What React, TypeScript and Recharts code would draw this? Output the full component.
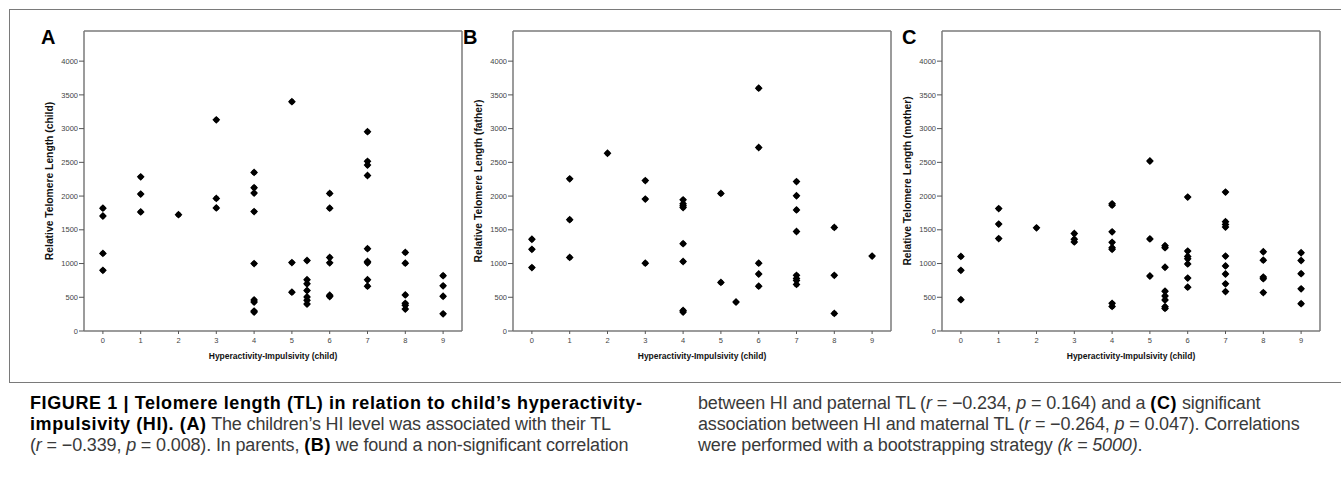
import React from "react";
import { ScatterChart, Scatter, XAxis, YAxis, ReferenceLine } from "recharts";

// HI levels (x categories) – the 5.4 column is a separate group shown between 5 and 6
const hiLevels = [0, 1, 2, 3, 4, 5, 5.4, 6, 7, 8, 9];

// Relative telomere length, grouped per HI level
const childTL = [
  [1820, 1705, 1150, 900],
  [2285, 2030, 1765],
  [1725],
  [3130, 1965, 1825],
  [2350, 2125, 2045, 1770, 1000, 460, 430, 295, 280],
  [3400, 1015, 575],
  [1045, 760, 700, 600, 505, 455, 400],
  [2040, 1820, 1090, 1010, 530, 510],
  [2955, 2515, 2460, 2305, 1220, 1030, 1010, 760, 665],
  [1165, 1005, 535, 410, 380, 325],
  [820, 670, 515, 255],
];

const fatherTL = [
  [1360, 1210, 940],
  [2255, 1650, 1090],
  [2635],
  [2230, 1955, 1005],
  [1945, 1885, 1855, 1830, 1295, 1030, 305, 280],
  [2040, 720],
  [430],
  [3600, 2720, 1005, 845, 665],
  [2215, 2005, 1795, 1475, 825, 780, 750, 690],
  [1535, 825, 260],
  [1110],
];

const motherTL = [
  [1105, 900, 465],
  [1815, 1585, 1370],
  [1530],
  [1445, 1360, 1320],
  [1885, 1865, 1470, 1315, 1235, 1210, 410, 365],
  [2520, 1365, 815],
  [1265, 1235, 945, 590, 520, 460, 360, 335],
  [1985, 1185, 1105, 1070, 995, 785, 650],
  [2060, 1620, 1580, 1540, 1110, 965, 845, 700, 585],
  [1175, 1050, 800, 775, 570],
  [1160, 1045, 850, 625, 405],
];

const xTicks = [0, 1, 2, 3, 4, 5, 6, 7, 8, 9];
const yTicks = [0, 500, 1000, 1500, 2000, 2500, 3000, 3500, 4000];
const xDomain = [-0.5, 9.5];
const yMax = 4447;

const panelLetters = ["A", "B", "C"];
const yTitles = [
  "Relative Telomere Length (child)",
  "Relative Telomere Length (father)",
  "Relative Telomere Length (mother)",
];
const xTitle = "Hyperactivity-Impulsivity (child)";

const build = (groups: number[][]) =>
  groups.flatMap((vals, i) => vals.map((v) => ({ x: hiLevels[i], y: v })));

const panels = [build(childTL), build(fatherTL), build(motherTL)];

const FONT = "'Liberation Sans', Arial, Helvetica, sans-serif";
const FRAME = "#7a7a7a";

const Marker = (props: any) => {
  const { cx, cy } = props;
  if (cx == null || cy == null) return null;
  const h = 3.9;
  return (
    <g>
      <path
        d={`M${cx},${cy - h} L${cx + h},${cy} L${cx},${cy + h} L${cx - h},${cy} Z`}
        fill="#000"
      />
      <circle cx={cx} cy={cy} r={2.6} fill="#000" />
    </g>
  );
};

const Panel = ({ idx }: { idx: number }) => {
  const data = panels[idx];
  return (
    <ScatterChart
      width={437}
      height={380}
      margin={{ top: 31, right: 5, bottom: 8, left: 0 }}
    >
      <XAxis
        type="number"
        dataKey="x"
        domain={xDomain}
        ticks={xTicks}
        allowDataOverflow
        axisLine={{ stroke: FRAME, strokeWidth: 1.5 }}
        tickLine={{ stroke: "#555" }}
        tickSize={3}
        tickMargin={4}
        height={41}
        tick={{ fontSize: 7.5, fill: "#444", fontFamily: FONT }}
        label={{
          content: (p: any) => {
            const vb = p.viewBox || {};
            return (
              <text
                x={vb.x + vb.width / 2}
                y={vb.y + 28}
                textAnchor="middle"
                fontSize={8.5}
                fontWeight="bold"
                fontFamily={FONT}
                fill="#111"
              >
                {xTitle}
              </text>
            );
          },
        }}
      />
      <YAxis
        type="number"
        dataKey="y"
        domain={[0, yMax]}
        ticks={yTicks}
        allowDataOverflow
        width={54}
        axisLine={{ stroke: FRAME, strokeWidth: 1.5 }}
        tickLine={{ stroke: "#555" }}
        tickSize={5}
        tickMargin={1}
        tick={{ fontSize: 7.5, fill: "#444", fontFamily: FONT }}
        label={{
          content: (p: any) => {
            const vb = p.viewBox || {};
            const tx = vb.x + 23;
            const ty = vb.y + vb.height / 2;
            return (
              <text
                x={tx}
                y={ty}
                transform={`rotate(-90, ${tx}, ${ty})`}
                textAnchor="middle"
                fontSize={10.3}
                fontWeight="bold"
                fontFamily={FONT}
                fill="#111"
              >
                {yTitles[idx]}
              </text>
            );
          },
        }}
      />
      <ReferenceLine y={yMax} stroke={FRAME} strokeWidth={1.5} />
      <ReferenceLine x={9.5} stroke={FRAME} strokeWidth={1.5} />
      <Scatter data={data} shape={<Marker />} isAnimationActive={false} />
    </ScatterChart>
  );
};

const panelLefts = [30, 459, 888];
const letterLefts = [41, 463, 902];

const it = (s: string) => <i>{s}</i>;
const b = (s: string) => (
  <b style={{ color: "#000", letterSpacing: 0.6 }}>{s}</b>
);

const lineStyle: React.CSSProperties = {
  position: "absolute",
  whiteSpace: "nowrap",
  fontFamily: FONT,
  fontSize: 18,
  letterSpacing: -0.15,
  color: "#3a3a3a",
  lineHeight: "20px",
};

export default function App() {
  return (
    <div
      style={{
        position: "absolute",
        left: 0,
        top: 0,
        width: 1341,
        height: 480,
        background: "#fff",
        overflow: "hidden",
      }}
    >
      <div
        style={{
          position: "absolute",
          left: 9,
          top: 9,
          width: 1400,
          height: 372,
          border: `1.5px solid ${FRAME}`,
        }}
      />
      {[0, 1, 2].map((i) => (
        <div key={i} style={{ position: "absolute", left: panelLefts[i], top: 0 }}>
          <Panel idx={i} />
        </div>
      ))}
      {panelLetters.map((l, i) => (
        <div
          key={l}
          style={{
            position: "absolute",
            left: letterLefts[i],
            top: 26,
            fontFamily: FONT,
            fontWeight: "bold",
            fontSize: 20,
            color: "#000",
          }}
        >
          {l}
        </div>
      ))}
      <div style={{ ...lineStyle, left: 30, top: 393 }}>
        {b("FIGURE 1 | Telomere length (TL) in relation to child’s hyperactivity-")}
      </div>
      <div style={{ ...lineStyle, left: 30, top: 414 }}>
        {b("impulsivity (HI). (A)")} The children’s HI level was associated with their TL
      </div>
      <div style={{ ...lineStyle, left: 30, top: 435 }}>
        ({it("r")} = −0.339, {it("p")} = 0.008). In parents, {b("(B)")} we found a non-significant correlation
      </div>
      <div style={{ ...lineStyle, left: 698, top: 393 }}>
        between HI and paternal TL ({it("r")} = −0.234, {it("p")} = 0.164) and a {b("(C)")} significant
      </div>
      <div style={{ ...lineStyle, left: 698, top: 414 }}>
        association between HI and maternal TL ({it("r")} = −0.264, {it("p")} = 0.047). Correlations
      </div>
      <div style={{ ...lineStyle, left: 698, top: 435 }}>
        were performed with a bootstrapping strategy {it("(k = 5000)")}.
      </div>
    </div>
  );
}
